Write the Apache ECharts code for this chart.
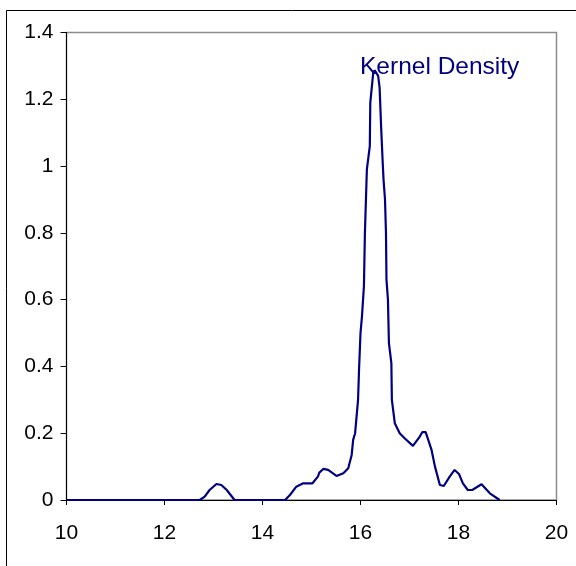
<!DOCTYPE html>
<html>
<head>
<meta charset="utf-8">
<script src="https://cdn.jsdelivr.net/npm/echarts@6/dist/echarts.min.js"></script>
<style>
  html, body { margin: 0; padding: 0; background: #ffffff; }
  #chart { width: 576px; height: 566px; }
</style>
</head>
<body>
<div id="chart"></div>
<script>
// Kernel density estimate: sample points along the curve
const xValues = [10, 12.72, 12.82, 12.92, 13.06, 13.16, 13.27, 13.43, 14.46, 14.56, 14.69, 14.83,
  15.02, 15.13, 15.16, 15.24, 15.34, 15.51, 15.65, 15.75, 15.82, 15.85, 15.89, 15.95, 15.97,
  16.0, 16.03, 16.07, 16.09, 16.13, 16.19, 16.2, 16.26, 16.29, 16.36, 16.39, 16.42, 16.45,
  16.47, 16.5, 16.52, 16.53, 16.56, 16.58, 16.63, 16.64, 16.7, 16.8, 16.9, 17.07, 17.21,
  17.26, 17.33, 17.45, 17.52, 17.62, 17.7, 17.82, 17.92, 18.01, 18.09, 18.19, 18.28, 18.47,
  18.64, 18.84];
const density = [0, 0, 0.01, 0.03, 0.048, 0.045, 0.03, 0, 0, 0.015, 0.04, 0.05,
  0.05, 0.07, 0.082, 0.093, 0.09, 0.072, 0.08, 0.095, 0.135, 0.18, 0.2, 0.3, 0.39,
  0.5, 0.55, 0.64, 0.8, 0.99, 1.06, 1.19, 1.28, 1.287, 1.27, 1.235, 1.12, 1.02,
  0.96, 0.9, 0.8, 0.66, 0.6, 0.47, 0.41, 0.3, 0.23, 0.2, 0.185, 0.162, 0.19,
  0.203, 0.203, 0.15, 0.1, 0.045, 0.042, 0.07, 0.09, 0.078, 0.05, 0.03, 0.03, 0.047,
  0.02, 0];
const seriesName = 'Kernel Density';
const xTicks = [10, 12, 14, 16, 18, 20];
const yTicks = [0, 0.2, 0.4, 0.6, 0.8, 1, 1.2, 1.4];

const points = xValues.map((x, i) => [x, density[i]]);
const FONT = 'Liberation Sans, Arial, sans-serif';

const chart = echarts.init(document.getElementById('chart'), null, { renderer: 'canvas' });
chart.setOption({
  animation: false,
  backgroundColor: '#ffffff',
  grid: {
    left: 66.5, top: 32.5, right: 19.5, bottom: 66,
    show: true, borderColor: '#8c8c8c', borderWidth: 1.5, backgroundColor: 'transparent'
  },
  xAxis: {
    type: 'value',
    min: xTicks[0], max: xTicks[xTicks.length - 1], interval: 2,
    axisLine: { show: true, onZero: false, lineStyle: { color: '#000000', width: 1 } },
    axisTick: { show: true, inside: false, length: 5, lineStyle: { color: '#000000' } },
    axisLabel: { color: '#000000', fontSize: 21, fontFamily: FONT, margin: 23 },
    splitLine: { show: false }
  },
  yAxis: {
    type: 'value',
    min: yTicks[0], max: yTicks[yTicks.length - 1], interval: 0.2,
    axisLine: { show: true, lineStyle: { color: '#000000', width: 1 } },
    axisTick: { show: true, inside: false, length: 6, lineStyle: { color: '#000000' } },
    axisLabel: { color: '#000000', fontSize: 21, fontFamily: FONT, margin: 13,
      formatter: v => String(Math.round(v * 10) / 10) },
    splitLine: { show: false }
  },
  series: [{
    name: seriesName,
    type: 'line',
    data: points,
    showSymbol: false,
    smooth: false,
    lineStyle: { color: '#000080', width: 2.2 },
    z: 3
  }],
  graphic: [
    {
      type: 'rect',
      shape: { x: 6.5, y: 10.5, width: 700, height: 700 },
      style: { fill: 'none', stroke: '#000000', lineWidth: 1 },
      silent: true, z: -10
    },
    {
      type: 'text',
      left: 360, top: 55,
      style: { text: seriesName, fill: '#000080', fontSize: 24.5, fontFamily: FONT },
      z: 1
    }
  ]
});
</script>
</body>
</html>
